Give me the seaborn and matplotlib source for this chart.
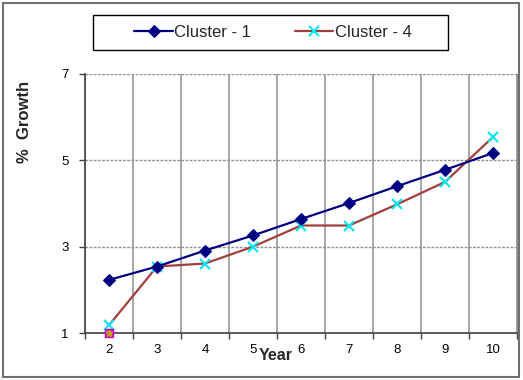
import matplotlib
matplotlib.use("Agg")
import matplotlib.pyplot as plt
import seaborn as sns
import pandas as pd
from matplotlib.patches import Rectangle

# ---- data ----
years = [2, 3, 4, 5, 6, 7, 8, 9, 10]
cluster1 = [2.23, 2.54, 2.91, 3.26, 3.64, 4.01, 4.40, 4.78, 5.17]
cluster4 = [1.18, 2.54, 2.61, 3.00, 3.49, 3.49, 3.98, 4.50, 5.54]
extra_x = [2]
extra_y = [1.0]
y_ticks = [1, 3, 5, 7]
series_names = ["Cluster - 1", "Cluster - 4"]

sns.set_theme(style="white")
plt.rcParams['font.family'] = ['Liberation Sans', 'DejaVu Sans']

W, H = 523, 380
fig = plt.figure(figsize=(W / 100, H / 100), dpi=100)
ax = fig.add_axes([85 / W, 1 - 333 / H, (517 - 85) / W, (333 - 74) / H])

df1 = pd.DataFrame({"Year": years, "Growth": cluster1})
df4 = pd.DataFrame({"Year": years, "Growth": cluster4})

sns.lineplot(data=df1, x="Year", y="Growth", ax=ax, color="#000080",
             marker="D", markersize=6.5, markeredgecolor="#000080",
             markerfacecolor="#000080", linewidth=1.6, label=series_names[0],
             legend=False, clip_on=False, zorder=4)
sns.lineplot(data=df4, x="Year", y="Growth", ax=ax, color="#A0403C",
             marker="x", markersize=7, markeredgecolor="#00E8F0",
             markeredgewidth=1.5, linewidth=1.6, label=series_names[1],
             legend=False, clip_on=False, zorder=3)
ax.plot(extra_x, extra_y, linestyle="none", marker="s", markersize=6,
        markerfacecolor="#E020E0", markeredgecolor="#C000C0", clip_on=False, zorder=5)
ax.plot(extra_x, extra_y, linestyle="none", marker="*", markersize=5,
        color="#C8A000", clip_on=False, zorder=6)

ax.set_xlim(1.5, 10.5)
ax.set_ylim(1, 7)
ax.set_xticks(years)
ax.set_xticklabels([str(y) for y in years])
ax.set_xticks([y - 0.5 for y in years] + [years[-1] + 0.5], minor=True)
ax.set_yticks(y_ticks)
ax.set_yticklabels([str(v) for v in y_ticks])
ax.tick_params(axis="x", which="major", length=0, pad=8, labelsize=9.5, labelcolor="black")
ax.tick_params(axis="x", which="minor", bottom=True, direction="out", length=4,
               width=1, color="#404040")
ax.tick_params(axis="y", which="major", left=True, direction="out", length=4,
               width=1, color="#404040", pad=8, labelsize=9.5, labelcolor="black")

ax.grid(False)
ax.grid(True, axis="x", which="minor", color="#909090", linewidth=1.1, linestyle="-")
ax.grid(True, axis="y", which="major", color="#909090", linewidth=1.0, linestyle=(0, (2, 1)))
ax.set_axisbelow(True)

for s in ["left", "bottom"]:
    ax.spines[s].set_color("#404040")
    ax.spines[s].set_linewidth(1.2)
ax.spines["top"].set_visible(False)
ax.spines["right"].set_color("#909090")
ax.spines["right"].set_linewidth(1.0)

ax.set_xlabel("")
ax.set_ylabel("")

fig.text(25 / W, 1 - 122 / H, "%  Growth", rotation=90, fontsize=12,
         fontweight="bold", ha="center", va="center")
fig.text(276 / W, 1 - 355 / H, "Year", fontsize=11.5, fontweight="bold",
         ha="center", va="center")

# legend
handles, labels = ax.get_legend_handles_labels()
handles = [h for h, l in zip(handles, labels) if l in series_names]
labels = [l for l in labels if l in series_names]
fig.legend(handles, labels, loc="center", bbox_to_anchor=(273 / W, 1 - 32.5 / H),
           ncol=2, frameon=False, fontsize=12, handlelength=2.3,
           handletextpad=0.1, columnspacing=2.6)
fig.patches.append(Rectangle((93 / W, 1 - 50 / H), (448 - 93) / W, 35 / H,
                             transform=fig.transFigure, fill=False,
                             edgecolor="black", linewidth=1.0))
# outer border
fig.patches.append(Rectangle((3 / W, 1 - 377 / H), (519 - 3) / W, (377 - 3) / H,
                             transform=fig.transFigure, fill=False,
                             edgecolor="#707070", linewidth=1.5))

fig.savefig("out.png", dpi=100)
